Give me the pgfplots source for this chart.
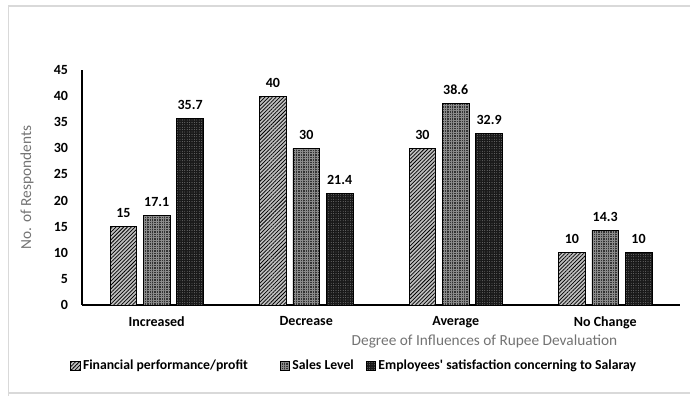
\documentclass[border=0pt]{standalone}
\usepackage{fontspec}
\setmainfont{Carlito}
\usepackage{pgfplots}
\pgfplotsset{compat=1.18}
\usetikzlibrary{patterns.meta}

\pgfplotstableread{
cat fin sales emp
0   15  17.1  35.7
1   40  30    21.4
2   30  38.6  32.9
3   10  14.3  10
}\respdata

\begin{document}
\begin{tikzpicture}
\useasboundingbox (0pt,0pt) rectangle (517.5pt,297pt);
% outer chart frame
\draw[black!15, line width=1.2pt] (6.4pt,0pt) -- (6.4pt,292.5pt) -- (517.5pt,292.5pt);
\draw[black!15, line width=1.2pt] (6.4pt,2.2pt) -- (517.5pt,2.2pt);
\begin{axis}[
  at={(61.5pt,68.25pt)}, anchor=south west,
  width=448.5pt, height=176.25pt, scale only axis,
  ybar=5pt, bar width=20pt,
  xmin=-0.5, xmax=3.5, ymin=0, ymax=45,
  xtick=data,
  xticklabels={Increased, Decrease, Average, No Change},
  ytick={0,5,...,45},
  axis x line*=bottom, axis y line*=left,
  axis line style={-, line width=0.8pt},
  major tick length=0pt,
  tick label style={font=\fontsize{10.5}{12}\selectfont\bfseries},
  /pgf/number format/assume math mode=true,
  xticklabel style={yshift=-5pt},
  yticklabel style={xshift=-7pt},
  ylabel={No. of Respondents},
  ylabel style={font=\fontsize{11.5}{13}\selectfont, text=black!55, at={(axis description cs:-0.073,0.5)}},
  xlabel={Degree of Influences of Rupee Devaluation},
  xlabel style={font=\fontsize{11.5}{13}\selectfont, text=black!55, at={(axis description cs:0.673,-0.157)}, anchor=center},
  nodes near coords,
  nodes near coords style={font=\fontsize{10.5}{12}\selectfont\bfseries, text=black, yshift=3pt},
  every node near coord/.append style={/pgf/number format/assume math mode=true},
  legend columns=3,
  legend style={draw=none, font=\fontsize{10.3}{12}\selectfont\bfseries,
    at={(axis description cs:0.456,-0.26)}, anchor=center,
    /tikz/column 2/.style={column sep=22pt},
    /tikz/column 4/.style={column sep=7pt}},
  legend image code/.code={\draw[#1, draw=black] (0pt,-3.3pt) rectangle (6.8pt,3.3pt);},
]
\addplot[draw=black, line width=0.6pt, fill=black!25,
  postaction={pattern={Lines[angle=45, distance=2pt, line width=0.55pt]}, pattern color=black}]
  table[x=cat, y=fin] {\respdata};
\addlegendentry{Financial performance/profit}
\addplot[draw=black, line width=0.6pt, fill=black!80,
  postaction={pattern={Lines[angle=0, distance=1.8pt, line width=0.4pt]}, pattern color=black!45},
  postaction={pattern={Lines[angle=90, distance=1.8pt, line width=0.4pt]}, pattern color=black!45}]
  table[x=cat, y=sales] {\respdata};
\addlegendentry{Sales Level}
\addplot[draw=black, line width=0.6pt, fill=black!90,
  postaction={pattern={Dots[distance=1.8pt, radius=0.33pt]}, pattern color=black!40}]
  table[x=cat, y=emp] {\respdata};
\addlegendentry{Employees\textquotesingle\ satisfaction concerning to Salaray}
\end{axis}
\end{tikzpicture}
\end{document}
